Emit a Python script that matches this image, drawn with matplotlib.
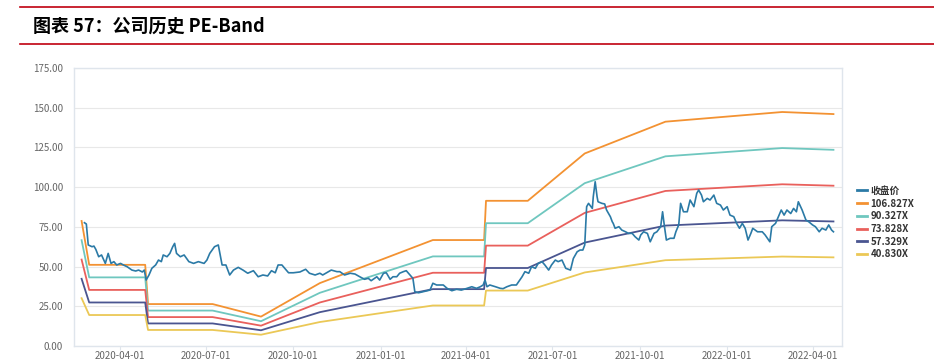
import pandas as pd
import matplotlib
matplotlib.use("Agg")
import matplotlib.pyplot as plt
import matplotlib.dates as mdates
from matplotlib.lines import Line2D
from matplotlib.ticker import FormatStrFormatter

plt.rcParams['font.family'] = ['Noto Sans CJK SC', 'DejaVu Sans']

# closing price
price_dates = [
    "2020-02-24", "2020-02-26", "2020-02-28", "2020-03-03", "2020-03-05", "2020-03-07",
    "2020-03-10", "2020-03-13", "2020-03-17", "2020-03-20", "2020-03-23", "2020-03-26",
    "2020-03-29", "2020-04-02", "2020-04-05", "2020-04-09", "2020-04-14", "2020-04-18",
    "2020-04-21", "2020-04-25", "2020-04-27", "2020-04-29", "2020-05-02", "2020-05-05",
    "2020-05-09", "2020-05-12", "2020-05-15", "2020-05-17", "2020-05-21", "2020-05-24",
    "2020-05-27", "2020-05-29", "2020-05-31", "2020-06-04", "2020-06-08", "2020-06-13",
    "2020-06-18", "2020-06-23", "2020-06-29", "2020-07-02", "2020-07-05", "2020-07-10",
    "2020-07-14", "2020-07-15", "2020-07-18", "2020-07-22", "2020-07-26", "2020-07-30",
    "2020-08-04", "2020-08-09", "2020-08-14", "2020-08-20", "2020-08-25", "2020-08-30",
    "2020-09-04", "2020-09-08", "2020-09-12", "2020-09-15", "2020-09-19", "2020-09-22",
    "2020-09-26", "2020-10-01", "2020-10-08", "2020-10-14", "2020-10-18", "2020-10-24",
    "2020-10-29", "2020-11-01", "2020-11-07", "2020-11-10", "2020-11-16", "2020-11-19",
    "2020-11-24", "2020-11-30", "2020-12-05", "2020-12-10", "2020-12-15", "2020-12-19",
    "2020-12-22", "2020-12-28", "2020-12-31", "2021-01-04", "2021-01-07", "2021-01-11",
    "2021-01-14", "2021-01-18", "2021-01-21", "2021-01-25", "2021-01-28", "2021-02-01",
    "2021-02-04", "2021-02-06", "2021-02-10", "2021-02-15", "2021-02-22", "2021-02-25",
    "2021-03-01", "2021-03-08", "2021-03-12", "2021-03-17", "2021-03-22", "2021-03-27",
    "2021-04-02", "2021-04-07", "2021-04-12", "2021-04-16", "2021-04-19", "2021-04-21",
    "2021-04-23", "2021-04-26", "2021-05-02", "2021-05-07", "2021-05-10", "2021-05-14",
    "2021-05-19", "2021-05-24", "2021-05-30", "2021-06-02", "2021-06-06", "2021-06-09",
    "2021-06-13", "2021-06-16", "2021-06-20", "2021-06-23", "2021-06-27", "2021-06-30",
    "2021-07-04", "2021-07-07", "2021-07-11", "2021-07-15", "2021-07-20", "2021-07-23",
    "2021-07-27", "2021-07-30", "2021-08-02", "2021-08-04", "2021-08-06", "2021-08-08",
    "2021-08-12", "2021-08-13", "2021-08-15", "2021-08-17", "2021-08-18", "2021-08-22",
    "2021-08-25", "2021-08-27", "2021-08-31", "2021-09-02", "2021-09-03", "2021-09-05",
    "2021-09-09", "2021-09-12", "2021-09-16", "2021-09-19", "2021-09-23", "2021-09-26",
    "2021-09-30", "2021-10-02", "2021-10-05", "2021-10-09", "2021-10-12", "2021-10-16",
    "2021-10-19", "2021-10-23", "2021-10-25", "2021-10-27", "2021-10-29", "2021-11-02",
    "2021-11-06", "2021-11-08", "2021-11-11", "2021-11-13", "2021-11-16", "2021-11-20",
    "2021-11-23", "2021-11-27", "2021-11-30", "2021-12-02", "2021-12-05", "2021-12-07",
    "2021-12-11", "2021-12-14", "2021-12-18", "2021-12-21", "2021-12-25", "2021-12-28",
    "2022-01-01", "2022-01-04", "2022-01-08", "2022-01-11", "2022-01-14", "2022-01-17",
    "2022-01-20", "2022-01-23", "2022-01-26", "2022-01-28", "2022-02-02", "2022-02-07",
    "2022-02-10", "2022-02-15", "2022-02-17", "2022-02-21", "2022-02-24", "2022-02-27",
    "2022-03-02", "2022-03-05", "2022-03-09", "2022-03-12", "2022-03-15", "2022-03-17",
    "2022-03-21", "2022-03-25", "2022-03-28", "2022-04-01", "2022-04-04", "2022-04-08",
    "2022-04-11", "2022-04-15", "2022-04-18", "2022-04-21", "2022-04-23",
]
price = [
    77.6, 76.8, 63.6, 62.5, 62.9, 60.8,
    56.2, 57.3, 52.0, 58.3, 52.0, 53.1,
    51.0, 52.0, 51.0, 49.9, 47.8, 47.2,
    47.8, 46.6, 47.8, 41.5, 44.7, 48.9,
    51.0, 54.1, 53.1, 57.3, 56.2, 58.3,
    62.5, 64.6, 58.3, 56.2, 57.3, 53.1,
    52.0, 53.1, 52.0, 54.1, 58.3, 62.5,
    63.6, 60.4, 51.0, 51.0, 44.7, 47.8,
    49.5, 47.8, 45.8, 47.4, 43.6, 44.7,
    44.1, 47.4, 46.1, 51.0, 51.0, 48.9,
    46.1, 46.1, 46.6, 48.3, 45.8, 44.7,
    45.8, 44.7, 46.8, 47.8, 46.8, 46.8,
    44.7, 45.8, 45.3, 43.6, 42.0, 42.6,
    41.1, 43.6, 41.5, 45.8, 46.1, 42.0,
    43.6, 43.6, 45.8, 46.8, 47.4, 44.7,
    42.6, 34.2, 33.5, 34.2, 35.2, 39.5,
    38.4, 38.4, 36.3, 34.8, 35.7, 35.2,
    36.3, 37.3, 36.3, 37.3, 38.4, 41.5,
    37.3, 38.4, 37.3, 36.3, 36.1, 37.3,
    38.4, 38.4, 43.6, 46.8, 45.8, 49.9,
    48.9, 52.0, 53.1, 51.0, 47.8, 51.0,
    54.1, 53.1, 54.1, 48.9, 47.8, 55.1,
    59.3, 60.4, 60.4, 63.6, 87.7, 89.8,
    86.6, 94.0, 103.4, 94.0, 90.8, 89.8,
    89.4, 85.6, 81.4, 78.2, 77.2, 74.1,
    75.1, 73.0, 71.9, 70.9, 70.9, 68.8,
    66.7, 69.9, 71.9, 70.9, 65.6, 70.9,
    71.9, 75.1, 84.5, 75.1, 66.7, 67.8,
    67.8, 71.9, 76.2, 89.8, 84.5, 84.5,
    91.9, 87.7, 96.1, 98.2, 95.0, 90.8,
    92.9, 91.9, 95.0, 89.8, 88.7, 85.6,
    87.7, 82.4, 81.4, 77.2, 74.1, 77.2,
    74.1, 66.7, 70.9, 74.1, 71.9, 71.9,
    69.9, 65.6, 75.1, 77.2, 81.4, 85.6,
    82.4, 85.6, 83.4, 86.6, 84.5, 90.8,
    85.6, 79.3, 78.2, 76.2, 75.1, 71.9,
    74.1, 73.0, 76.2, 73.0, 71.9,
]

# PE band breakpoints
band_dates = [
    "2020-02-21", "2020-02-29", "2020-04-28", "2020-05-01", "2020-07-08",
    "2020-08-28", "2020-10-29", "2021-02-25", "2021-04-20", "2021-04-22",
    "2021-06-05", "2021-08-04", "2021-10-28", "2022-02-28", "2022-04-23",
]
pe_107 = [78.7, 51.1, 51.1, 26.4, 26.4, 18.5, 39.6, 66.7, 66.7, 91.4, 91.4, 121.2, 141.2, 147.3, 146.0]
pe_90 = [66.6, 43.2, 43.2, 22.3, 22.3, 15.6, 33.5, 56.4, 56.4, 77.3, 77.3, 102.5, 119.4, 124.6, 123.5]
pe_74 = [54.4, 35.3, 35.3, 18.2, 18.2, 12.8, 27.4, 46.1, 46.1, 63.2, 63.2, 83.8, 97.6, 101.8, 100.9]
pe_57 = [42.3, 27.4, 27.4, 14.2, 14.2, 9.9, 21.3, 35.8, 35.8, 49.1, 49.1, 65.1, 75.8, 79.1, 78.4]
pe_41 = [30.1, 19.5, 19.5, 10.1, 10.1, 7.1, 15.1, 25.5, 25.5, 34.9, 34.9, 46.3, 54.0, 56.3, 55.8]

labels = ["收盘价", "106.827X", "90.327X", "73.828X", "57.329X", "40.830X"]
colors = ["#2b7aa6", "#f39232", "#6fc7bf", "#e9605c", "#4a5590", "#ebc856"]

px = pd.to_datetime(price_dates)
bx = pd.to_datetime(band_dates)

fig = plt.figure(figsize=(9.34, 3.63), dpi=100)
ax = fig.add_axes([74 / 934, 1 - 346 / 363, (842 - 74) / 934, (346 - 68) / 363])

bands = [pe_107, pe_90, pe_74, pe_57, pe_41]
for vals, c in zip(bands, colors[1:]):
    ax.plot(bx, vals, color=c, lw=1.3, zorder=2)
ax.plot(px, price, color=colors[0], lw=1.2, zorder=3)

ax.set_ylim(0, 175)
ax.set_yticks([0, 25, 50, 75, 100, 125, 150, 175])
ax.yaxis.set_major_formatter(FormatStrFormatter('%.2f'))
ax.set_xlim(pd.Timestamp("2020-02-13"), pd.Timestamp("2022-05-02"))
ax.xaxis.set_major_locator(mdates.MonthLocator(bymonth=[1, 4, 7, 10], bymonthday=1))
ax.xaxis.set_major_formatter(mdates.DateFormatter('%Y-%m-%d'))

ax.grid(axis='y', color='#e8e8e8', lw=0.8)
ax.set_axisbelow(True)
for s in ax.spines.values():
    s.set_color('#dfe5ec')
    s.set_linewidth(1.0)
ax.tick_params(axis='y', labelsize=7, colors='#666666', length=0, pad=8)
ax.tick_params(axis='x', labelsize=7, labelcolor='#666666', length=3, color='#dfe5ec', pad=0.5)

handles = [Line2D([0], [0], color=c, lw=2) for c in colors]
leg = fig.legend(handles, labels, loc='upper left', bbox_to_anchor=(852 / 934, 1 - 181 / 363),
                 frameon=False, fontsize=7, handlelength=1.0, handletextpad=0.4,
                 labelspacing=0.28, borderpad=0)
for t in leg.get_texts():
    t.set_color('#333333')
    t.set_fontweight('bold')

# header
fig.add_artist(Line2D([20 / 934, 1], [1 - 7 / 363, 1 - 7 / 363], color='#c0000f', lw=1.2))
fig.add_artist(Line2D([20 / 934, 1], [1 - 44 / 363, 1 - 44 / 363], color='#c0000f', lw=1.2))
fig.text(33 / 934, 1 - 26 / 363, "图表 57：公司历史 PE-Band", fontsize=13, fontweight='bold',
         style='italic', va='center', ha='left', color='#000000')

fig.savefig("out.png", dpi=100, facecolor='w')
